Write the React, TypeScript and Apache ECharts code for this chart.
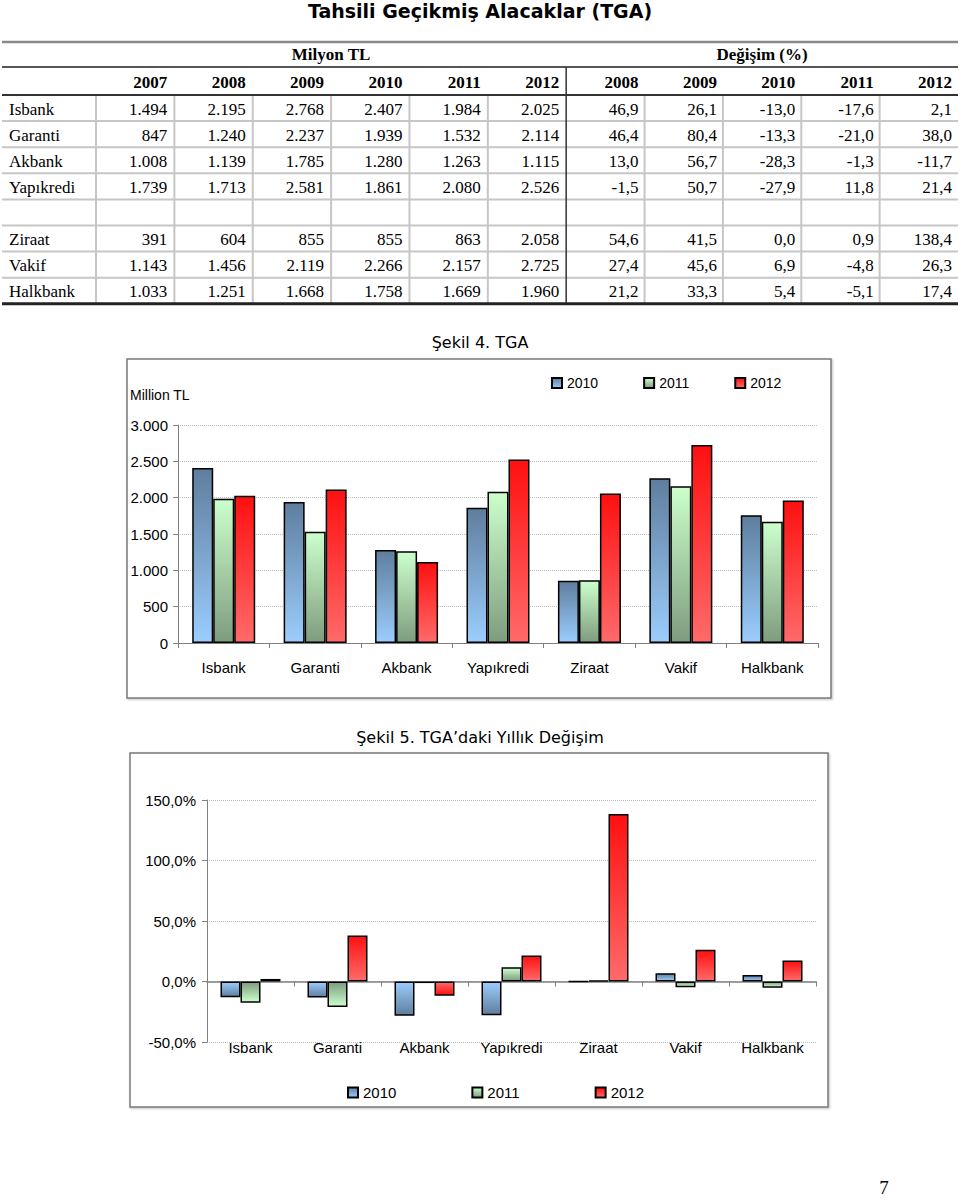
import React, { useEffect, useRef } from "react";
import * as echarts from "echarts";

// ---------- DATA ----------
const banks = ["Isbank", "Garanti", "Akbank", "Yapıkredi", "Ziraat", "Vakif", "Halkbank"];
const levelYears = ["2007", "2008", "2009", "2010", "2011", "2012"];
const changeYears = ["2008", "2009", "2010", "2011", "2012"];

const tga2007 = [1494, 847, 1008, 1739, 391, 1143, 1033];
const tga2008 = [2195, 1240, 1139, 1713, 604, 1456, 1251];
const tga2009 = [2768, 2237, 1785, 2581, 855, 2119, 1668];
const tga2010 = [2407, 1939, 1280, 1861, 855, 2266, 1758];
const tga2011 = [1984, 1532, 1263, 2080, 863, 2157, 1669];
const tga2012 = [2025, 2114, 1115, 2526, 2058, 2725, 1960];

const chg2008 = [46.9, 46.4, 13.0, -1.5, 54.6, 27.4, 21.2];
const chg2009 = [26.1, 80.4, 56.7, 50.7, 41.5, 45.6, 33.3];
const chg2010 = [-13.0, -13.3, -28.3, -27.9, 0.0, 6.9, 5.4];
const chg2011 = [-17.6, -21.0, -1.3, 11.8, 0.9, -4.8, -5.1];
const chg2012 = [2.1, 38.0, -11.7, 21.4, 138.4, 26.3, 17.4];

const chartYears = ["2010", "2011", "2012"];
const chartLevels = [tga2010, tga2011, tga2012];
const chartChanges = [chg2010, chg2011, chg2012];

const levelAxisMin = 0;
const levelAxisMax = 3000;
const levelAxisStep = 500;
const changeAxisMin = -50;
const changeAxisMax = 150;
const changeAxisStep = 50;

const pageNumber = "7";
const titleText = "Tahsili Geçikmiş Alacaklar (TGA)";
const fig4Title = "Şekil 4. TGA";
const fig5Title = "Şekil 5. TGA’daki Yıllık Değişim";
const levelUnit = "Million TL";
const tableGroupLevel = "Milyon TL";
const tableGroupChange = "Değişim (%)";

// ---------- STYLE ----------
const SERIF = "'Liberation Serif', 'Times New Roman', serif";
const SANS = "'Liberation Sans', Arial, sans-serif";
const VERDANA = "'DejaVu Sans', Verdana, sans-serif";

const gradStops = [
  ["#5f7e9e", "#9bcdfd"],
  ["#ccffcc", "#7e9c7e"],
  ["#ff1010", "#ff6a6a"],
];

function grad(i: number, flip: boolean) {
  const [a, b] = gradStops[i];
  return new echarts.graphic.LinearGradient(0, flip ? 1 : 0, 0, flip ? 0 : 1, [
    { offset: 0, color: a },
    { offset: 1, color: b },
  ]);
}

const fmtInt = (n: number) => String(n).replace(/\B(?=(\d{3})+(?!\d))/g, ".");
const fmtPct = (n: number) => n.toFixed(1).replace(".", ",");

function txt(text: string, x: number, y: number, font: string, align = "left", extra: any = {}) {
  return {
    type: "text",
    x,
    y,
    silent: true,
    style: {
      text,
      font,
      fill: "#000",
      textAlign: align,
      textVerticalAlign: "middle",
      align,
      verticalAlign: "middle",
      ...extra,
    },
  };
}

function line(x1: number, y1: number, x2: number, y2: number, stroke: string, lineWidth: number) {
  return {
    type: "line",
    silent: true,
    shape: { x1, y1, x2, y2 },
    style: { stroke, lineWidth },
  };
}

function buildTable() {
  const els: any[] = [];
  const left = 2;
  const right = 958;
  const colStart = 96;
  const colW = (right - colStart) / 11;
  const colRight = (k: number) => colStart + colW * (k + 1);
  const bodyTop = 95;
  const rowH = 26.1;
  const rowsOrder = [0, 1, 2, 3, -1, 4, 5, 6];
  const bodyBottom = bodyTop + rowH * rowsOrder.length;
  const levels = [tga2007, tga2008, tga2009, tga2010, tga2011, tga2012];
  const changes = [chg2008, chg2009, chg2010, chg2011, chg2012];

  for (let r = 1; r < rowsOrder.length; r++) {
    els.push(line(left, bodyTop + rowH * r, right, bodyTop + rowH * r, "#c6c6c6", 2));
  }
  for (let k = -1; k < 10; k++) {
    if (k === 5) continue;
    const x = k < 0 ? colStart : colRight(k);
    els.push(line(x, bodyTop, x, bodyBottom, "#c6c6c6", 2));
  }
  els.push(line(left, 42, right, 42, "#8a8a8a", 2.5));
  els.push(line(left, 67, right, 67, "#555", 2));
  els.push(line(colRight(5), 67, colRight(5), bodyBottom, "#333", 1.5));
  els.push(line(left, bodyTop, right, bodyTop, "#333", 2));
  els.push(line(left, bodyBottom, right, bodyBottom, "#222", 3));

  els.push(txt(tableGroupLevel, (colStart + colRight(5)) / 2, 54, `bold 17px ${SERIF}`, "center"));
  els.push(txt(tableGroupChange, (colRight(5) + right) / 2, 54, `bold 17px ${SERIF}`, "center"));
  levelYears.forEach((y, k) => els.push(txt(y, colRight(k) - 7, 82, `bold 17px ${SERIF}`, "right")));
  changeYears.forEach((y, k) => els.push(txt(y, colRight(k + 6) - 6, 82, `bold 17px ${SERIF}`, "right")));

  rowsOrder.forEach((b, r) => {
    if (b < 0) return;
    const cy = bodyTop + rowH * r + rowH / 2 + 1;
    els.push(txt(banks[b], 9, cy, `17px ${SERIF}`, "left"));
    levels.forEach((arr, k) => els.push(txt(fmtInt(arr[b]), colRight(k) - 7, cy, `17px ${SERIF}`, "right")));
    changes.forEach((arr, k) => els.push(txt(fmtPct(arr[b]), colRight(k + 6) - 6, cy, `17px ${SERIF}`, "right")));
  });
  return els;
}

function buildGraphics() {
  const els: any[] = [];
  const boxStyle = {
    fill: "#fff",
    stroke: "#7a7a7a",
    lineWidth: 1.5,
    shadowBlur: 2,
    shadowColor: "rgba(0,0,0,0.25)",
    shadowOffsetX: 1,
    shadowOffsetY: 1,
  };
  els.push({ type: "rect", z: -10, silent: true, shape: { x: 127, y: 359, width: 704, height: 339 }, style: boxStyle });
  els.push({ type: "rect", z: -10, silent: true, shape: { x: 130, y: 753, width: 698, height: 354 }, style: boxStyle });
  els.push(txt(titleText, 480, 11, `bold 19px ${VERDANA}`, "center"));
  els.push(...buildTable());
  els.push(txt(fig4Title, 480, 342, `16px ${VERDANA}`, "center"));
  els.push(txt(fig5Title, 480, 737, `16px ${VERDANA}`, "center"));
  els.push(txt(levelUnit, 130, 395, `14px ${SANS}`, "left"));
  els.push(txt(pageNumber, 884, 1187, `19px ${SERIF}`, "center"));
  return els;
}

function buildOption(): any {
  const axisGray = "#808080";
  const labelStyle = { fontFamily: SANS, fontSize: 15, color: "#000" };
  const series: any[] = [];
  chartYears.forEach((name, i) => {
    series.push({
      type: "bar",
      name,
      xAxisIndex: 0,
      yAxisIndex: 0,
      barWidth: 21,
      barGap: "0%",
      data: chartLevels[i],
      itemStyle: { color: grad(i, false), borderColor: "#000", borderWidth: 1.5 },
    });
  });
  chartYears.forEach((name, i) => {
    series.push({
      type: "bar",
      name,
      xAxisIndex: 1,
      yAxisIndex: 1,
      barWidth: 20,
      barGap: "0%",
      data: chartChanges[i].map((v) => ({ value: v, itemStyle: { color: grad(i, v < 0) } })),
      itemStyle: { color: grad(i, false), borderColor: "#000", borderWidth: 1.5 },
    });
  });

  return {
    animation: false,
    textStyle: { fontFamily: SANS },
    graphic: { elements: buildGraphics() },
    legend: [
      {
        data: chartYears,
        left: 546,
        top: 371,
        icon: "rect",
        itemWidth: 10,
        itemHeight: 10,
        itemGap: 45,
        selectedMode: false,
        textStyle: { fontFamily: SANS, fontSize: 14, color: "#000" },
      },
      {
        data: chartYears,
        left: 342,
        top: 1080,
        icon: "rect",
        itemWidth: 10,
        itemHeight: 10,
        itemGap: 75,
        selectedMode: false,
        textStyle: { fontFamily: SANS, fontSize: 15, color: "#000" },
      },
    ],
    grid: [
      { left: 178, top: 425, width: 640, height: 218 },
      { left: 207, top: 800, width: 609, height: 242 },
    ],
    xAxis: [
      {
        gridIndex: 0,
        type: "category",
        data: banks,
        axisLine: { show: true, lineStyle: { color: axisGray, width: 1 } },
        axisTick: { show: true, length: 5, lineStyle: { color: axisGray } },
        axisLabel: { ...labelStyle, interval: 0, margin: 17 },
        splitLine: { show: false },
      },
      {
        gridIndex: 1,
        type: "category",
        data: banks,
        position: "bottom",
        axisLine: { show: false, onZero: false },
        axisTick: { show: false },
        axisLabel: { ...labelStyle, interval: 0, margin: -2 },
        splitLine: { show: false },
      },
      {
        gridIndex: 1,
        type: "category",
        data: banks,
        position: "bottom",
        axisLine: { show: true, onZero: true, lineStyle: { color: axisGray, width: 1.5 } },
        axisTick: { show: true, length: 5, lineStyle: { color: axisGray } },
        axisLabel: { show: false },
        splitLine: { show: false },
      },
    ],
    yAxis: [
      {
        gridIndex: 0,
        type: "value",
        min: levelAxisMin,
        max: levelAxisMax,
        interval: levelAxisStep,
        axisLine: { show: true, lineStyle: { color: axisGray, width: 1 } },
        axisTick: { show: true, length: 5, lineStyle: { color: axisGray } },
        axisLabel: { ...labelStyle, margin: 10, formatter: (v: number) => fmtInt(v) },
        splitLine: { show: true, lineStyle: { type: "dotted", color: "#bdbdbd", width: 1 } },
      },
      {
        gridIndex: 1,
        type: "value",
        min: changeAxisMin,
        max: changeAxisMax,
        interval: changeAxisStep,
        axisLine: { show: true, lineStyle: { color: axisGray, width: 1 } },
        axisTick: { show: true, length: 5, lineStyle: { color: axisGray } },
        axisLabel: { ...labelStyle, margin: 11, formatter: (v: number) => fmtPct(v) + "%" },
        splitLine: { show: true, lineStyle: { type: "dotted", color: "#bdbdbd", width: 1 } },
      },
    ],
    series,
  };
}

export default function App() {
  const ref = useRef<HTMLDivElement>(null);
  useEffect(() => {
    if (!ref.current) return;
    const chart = echarts.init(ref.current, undefined, { renderer: "svg" });
    chart.setOption(buildOption());
    return () => chart.dispose();
  }, []);
  return (
    <div
      ref={ref}
      style={{ position: "absolute", left: 0, top: 0, width: 960, height: 1200, background: "#fff" }}
    />
  );
}
